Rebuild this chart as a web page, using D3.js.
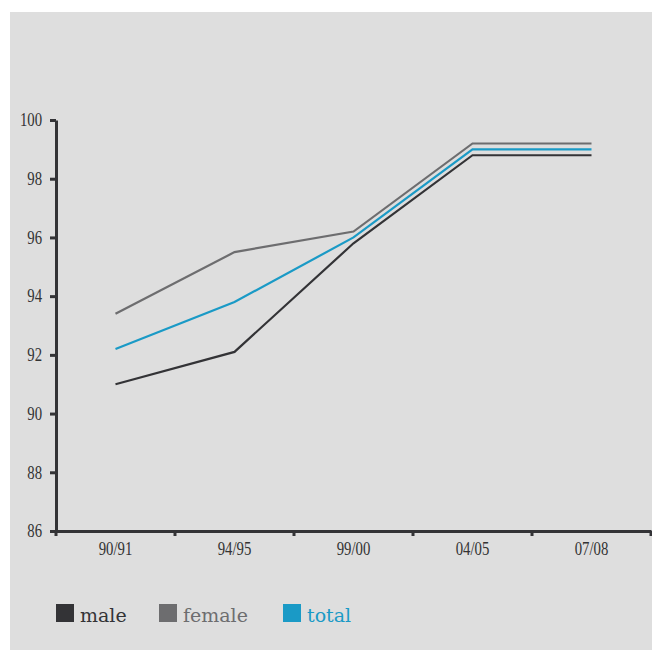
<!DOCTYPE html>
<html><head><meta charset="utf-8">
<script src="https://cdn.jsdelivr.net/npm/d3@7"></script>
<style>body{margin:0;background:#fff}svg{display:block}</style>
</head><body>
<svg id="c" width="652" height="650"></svg>
<script>
const categories = ["90/91","94/95","99/00","04/05","07/08"];
const male   = [91.0, 92.1, 95.8, 98.8, 98.8];
const female = [93.4, 95.5, 96.2, 99.2, 99.2];
const total  = [92.2, 93.8, 96.0, 99.0, 99.0];
const yTicks = [86,88,90,92,94,96,98,100];
const seriesNames = ["male","female","total"];
const seriesColors = ["#333336","#6d6d6f","#1a9ac6"];

const svg = d3.select("#c");
svg.append("rect").attr("x",10).attr("y",12).attr("width",642).attr("height",638).attr("fill","#dedede");

const x = d3.scaleBand().domain(categories).range([56,651]);
const y = d3.scaleLinear().domain([86,100]).range([531,120]);
const axisColor = "#333336";
const sx = 0.82;

// y axis
const ya = svg.append("g").attr("transform","translate(56,0)")
  .call(d3.axisLeft(y).tickValues(yTicks).tickSize(6).tickSizeOuter(0).tickFormat(d3.format("d")));
ya.select(".domain").attr("stroke",axisColor).attr("stroke-width",3);
ya.selectAll(".tick line").attr("stroke",axisColor).attr("stroke-width",3);
ya.selectAll(".tick text").attr("fill","#333").attr("font-family","Liberation Serif").attr("font-size",18)
  .attr("x",-14/sx).attr("transform",`scale(${sx},1)`);

// x axis
const xa = svg.append("g").attr("transform","translate(0,531)")
  .call(d3.axisBottom(x).tickSize(0).tickSizeOuter(0));
xa.select(".domain").attr("stroke",axisColor).attr("stroke-width",3);
xa.selectAll(".tick text").attr("fill","#333").attr("font-family","Liberation Serif").attr("font-size",18)
  .attr("y",24).attr("dy",0).attr("transform",`scale(${sx},1)`);
// boundary ticks
const bounds = categories.map(c=>x(c)).concat([x.range()[1]]);
svg.append("g").selectAll("line").data(bounds).join("line")
  .attr("x1",d=>d).attr("x2",d=>d).attr("y1",531).attr("y2",536)
  .attr("stroke",axisColor).attr("stroke-width",3);

const data = [male,female,total];
const line = d3.line().x((d,i)=>x(categories[i])+x.bandwidth()/2).y(d=>y(d));
data.forEach((s,k)=>{
  svg.append("path").datum(s).attr("d",line).attr("fill","none")
    .attr("stroke",seriesColors[k]).attr("stroke-width",2.2);
});

// legend
const legX = [56,159,283];
seriesNames.forEach((n,k)=>{
  svg.append("rect").attr("x",legX[k]).attr("y",604).attr("width",18).attr("height",18).attr("fill",seriesColors[k]);
  svg.append("text").attr("x",legX[k]+24).attr("y",622).text(n)
    .attr("font-family","DejaVu Serif").attr("font-size",19).attr("fill",seriesColors[k]);
});
</script>
</body></html>
